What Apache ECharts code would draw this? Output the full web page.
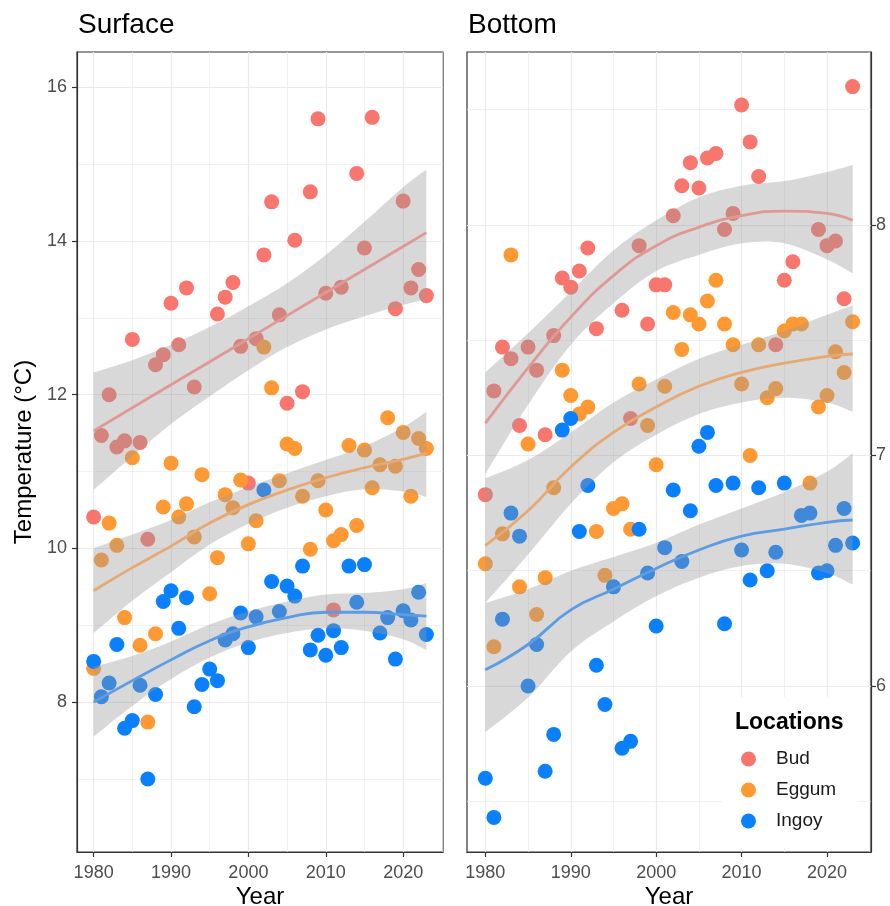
<!DOCTYPE html>
<html>
<head>
<meta charset="utf-8">
<title>Surface and bottom temperature</title>
<script src="https://cdn.jsdelivr.net/npm/echarts@6/dist/echarts.min.js"></script>
<style>
  html, body { margin: 0; padding: 0; background: #fff; }
  #chart { width: 890px; height: 906px; }
</style>
</head>
<body>
<div id="chart"></div>
<script>
// observations, one value per year (null = no point drawn)
const years = [1980, 1981, 1982, 1983, 1984, 1985, 1986, 1987, 1988, 1989,
  1990, 1991, 1992, 1993, 1994, 1995, 1996, 1997, 1998, 1999,
  2000, 2001, 2002, 2003, 2004, 2005, 2006, 2007, 2008, 2009,
  2010, 2011, 2012, 2013, 2014, 2015, 2016, 2017, 2018, 2019,
  2020, 2021, 2022, 2023]
const locations = ['Bud', 'Eggum', 'Ingoy']

const surfaceBud = [10.41, 11.47, 12.00, 11.32, 11.40, 12.72, 11.38, 10.12, 12.39, 12.52,
  13.19, 12.65, 13.39, 12.10, null, null, 13.05, 13.27, 13.46, 12.63,
  10.85, 12.73, 13.82, 14.51, 13.04, 11.89, 14.01, 12.04, 14.64, 15.59,
  13.32, 9.20, 13.40, null, 14.88, 13.91, 15.61, null, null, 13.12,
  14.52, 13.39, 13.63, 13.29]
const surfaceEggum = [8.44, 9.85, 10.33, 10.04, 9.10, 11.18, 8.74, 7.74, 8.89, 10.54,
  11.11, 10.41, 10.58, 10.15, 10.96, 9.41, 9.88, 10.70, 10.53, 10.89,
  10.06, 10.36, 12.62, 12.09, 10.88, 11.36, 11.30, 10.68, 9.99, 10.88,
  10.50, 10.10, 10.18, 11.34, 10.30, 11.28, 10.79, 11.09, 11.70, 11.07,
  11.51, 10.68, 11.43, 11.30]
const surfaceIngoy = [8.53, 8.07, 8.25, 8.75, 7.66, 7.76, 8.22, 7.00, 8.10, 9.31,
  9.45, 8.96, 9.36, 7.94, 8.23, 8.43, 8.28, 8.81, 8.89, 9.16,
  8.71, 9.11, 10.76, 9.57, 9.18, 9.51, 9.38, 9.77, 8.68, 8.87,
  8.61, 8.93, 8.71, 9.77, 9.30, 9.79, null, 8.90, 9.10, 8.56,
  9.19, 9.07, 9.43, 8.88]

const bottomBud = [6.83, 7.28, 7.47, 7.42, 7.13, 7.47, 7.37, 7.09, 7.52, 7.77,
  7.73, 7.80, 7.90, 7.55, null, null, 7.63, 7.16, 7.91, 7.57,
  7.74, 7.74, 8.04, 8.17, 8.27, 8.16, 8.29, 8.31, 7.98, 8.05,
  8.52, 8.36, 8.21, null, 7.48, 7.76, 7.84, null, null, 7.98,
  7.91, 7.93, 7.68, 8.60]
const bottomEggum = [6.53, 6.17, 6.66, 7.87, 6.43, 7.05, 6.31, 6.47, 6.86, 7.37,
  7.26, 7.18, 7.21, 6.67, 6.48, 6.77, 6.79, 6.68, 7.31, 7.13,
  6.96, 7.30, 7.62, 7.46, 7.61, 7.57, 7.67, 7.76, 7.57, 7.48,
  7.31, 7.00, 7.48, 7.25, 7.29, 7.54, 7.57, 7.57, 6.88, 7.21,
  7.26, 7.45, 7.36, 7.58]
const bottomIngoy = [5.60, 5.43, 6.29, 6.75, 6.65, 6.00, 6.18, 5.63, 5.79, 7.11,
  7.16, 6.67, 6.87, 6.09, 5.92, 6.43, 5.73, 5.76, 6.68, 6.49,
  6.26, 6.60, 6.85, 6.54, 6.76, 7.04, 7.10, 6.87, 6.27, 6.88,
  6.59, 6.46, 6.86, 6.50, 6.58, 6.88, null, 6.74, 6.75, 6.49,
  6.50, 6.61, 6.77, 6.62]

// smoothed fits and their confidence bands
const fitYears = [1980, 1985, 1990, 1995, 2000, 2005, 2010, 2015, 2020, 2023]

const surfaceBudFit = [11.53, 11.83, 12.13, 12.43, 12.73, 13.03, 13.33, 13.63, 13.93, 14.11]
const surfaceBudHi = [12.29, 12.45, 12.65, 12.88, 13.15, 13.45, 13.82, 14.25, 14.70, 14.93]
const surfaceBudLo = [10.76, 11.20, 11.62, 11.98, 12.32, 12.62, 12.85, 13.02, 13.17, 13.24]

const surfaceEggumFit = [9.45, 9.75, 10.03, 10.33, 10.57, 10.76, 10.92, 11.05, 11.16, 11.24]
const surfaceEggumHi = [10.00, 10.18, 10.37, 10.60, 10.80, 10.98, 11.15, 11.33, 11.58, 11.78]
const surfaceEggumLo = [8.90, 9.32, 9.69, 10.05, 10.32, 10.53, 10.68, 10.77, 10.74, 10.67]

const surfaceIngoyFit = [8.00, 8.28, 8.55, 8.80, 8.98, 9.10, 9.17, 9.17, 9.14, 9.12]
const surfaceIngoyHi = [8.46, 8.60, 8.79, 9.01, 9.18, 9.31, 9.40, 9.42, 9.47, 9.55]
const surfaceIngoyLo = [7.55, 7.95, 8.30, 8.58, 8.78, 8.90, 8.96, 8.93, 8.82, 8.68]

const bottomBudFit = [7.14, 7.38, 7.60, 7.78, 7.91, 7.99, 8.04, 8.06, 8.05, 8.02]
const bottomBudHi = [7.36, 7.53, 7.71, 7.89, 8.02, 8.12, 8.17, 8.19, 8.23, 8.26]
const bottomBudLo = [6.92, 7.22, 7.48, 7.66, 7.80, 7.87, 7.92, 7.92, 7.85, 7.79]

const bottomEggumFit = [6.61, 6.76, 6.95, 7.10, 7.21, 7.30, 7.36, 7.40, 7.43, 7.44]
const bottomEggumHi = [6.90, 6.98, 7.10, 7.23, 7.33, 7.42, 7.48, 7.54, 7.61, 7.65]
const bottomEggumLo = [6.36, 6.57, 6.79, 6.97, 7.09, 7.18, 7.23, 7.25, 7.23, 7.19]

const bottomIngoyFit = [6.07, 6.18, 6.33, 6.42, 6.51, 6.59, 6.65, 6.68, 6.71, 6.72]
const bottomIngoyHi = [6.36, 6.42, 6.50, 6.56, 6.62, 6.70, 6.77, 6.84, 6.93, 7.01]
const bottomIngoyLo = [5.80, 5.95, 6.15, 6.28, 6.39, 6.47, 6.52, 6.53, 6.49, 6.44]

// axis breaks
const xMajor = [1980, 1990, 2000, 2010, 2020]
const xMinor = [1985, 1995, 2005, 2015, 2025]
const surfaceMajor = [8, 10, 12, 14, 16]
const surfaceMinor = [7, 9, 11, 13, 15]
const bottomMajor = [6, 7, 8]
const bottomMinor = [5.5, 6.5, 7.5, 8.5]

const pointColors = { Bud: '#F8766D', Eggum: '#FF9933', Ingoy: '#0A80FF' }
const fitColors = { Bud: '#DF9994', Eggum: '#E6A971', Ingoy: '#5B9CE2' }
const FONT = '"Liberation Sans", Arial, sans-serif'

const panels = [
  {
    name: 'Surface', left: 77, width: 366, yMin: 6.05, yMax: 16.46,
    yMajor: surfaceMajor, yMinor: surfaceMinor, yPos: 'left', labelMargin: 10,
    points: { Bud: surfaceBud, Eggum: surfaceEggum, Ingoy: surfaceIngoy },
    fit: { Bud: surfaceBudFit, Eggum: surfaceEggumFit, Ingoy: surfaceIngoyFit },
    hi: { Bud: surfaceBudHi, Eggum: surfaceEggumHi, Ingoy: surfaceIngoyHi },
    lo: { Bud: surfaceBudLo, Eggum: surfaceEggumLo, Ingoy: surfaceIngoyLo }
  },
  {
    name: 'Bottom', left: 467, width: 404, yMin: 5.28, yMax: 8.75,
    yMajor: bottomMajor, yMinor: bottomMinor, yPos: 'right', labelMargin: 5,
    points: { Bud: bottomBud, Eggum: bottomEggum, Ingoy: bottomIngoy },
    fit: { Bud: bottomBudFit, Eggum: bottomEggumFit, Ingoy: bottomIngoyFit },
    hi: { Bud: bottomBudHi, Eggum: bottomEggumHi, Ingoy: bottomIngoyHi },
    lo: { Bud: bottomBudLo, Eggum: bottomEggumLo, Ingoy: bottomIngoyLo }
  }
]

const X_MIN = 1977.85
const X_MAX = 2025.15
const GRID_TOP = 52
const GRID_HEIGHT = 800

function pairs(xs, ys) {
  return xs.map((x, i) => [x, ys[i]]).filter(d => d[1] !== null)
}

// cubic segments through pixel points (Catmull-Rom style), appended after a move/line to pts[0]
function curveThrough(pts) {
  let d = ''
  for (let i = 0; i < pts.length - 1; i++) {
    const p0 = pts[i - 1] || pts[i]
    const p1 = pts[i]
    const p2 = pts[i + 1]
    const p3 = pts[i + 2] || pts[i + 1]
    const c1 = [p1[0] + (p2[0] - p0[0]) / 6, p1[1] + (p2[1] - p0[1]) / 6]
    const c2 = [p2[0] - (p3[0] - p1[0]) / 6, p2[1] - (p3[1] - p1[1]) / 6]
    d += ' C' + c1.join(' ') + ' ' + c2.join(' ') + ' ' + p2.join(' ')
  }
  return d
}

// one filled shape per band: upper edge left to right, lower edge back
function bandRenderer(hi, lo) {
  return function (params, api) {
    if (params.dataIndex !== 0) return null
    const upper = fitYears.map((x, i) => api.coord([x, hi[i]]))
    const lower = fitYears.map((x, i) => api.coord([x, lo[i]])).reverse()
    const d = 'M' + upper[0].join(' ') + curveThrough(upper) +
      ' L' + lower[0].join(' ') + curveThrough(lower) + ' Z'
    return {
      type: 'path',
      shape: { pathData: d },
      style: { fill: 'rgba(153,153,153,0.38)' },
      silent: true
    }
  }
}

const plainNumber = v => String(v)

const grids = []
const xAxes = []
const yAxes = []
const series = []
const graphics = []

panels.forEach((p, g) => {
  grids.push({
    left: p.left, top: GRID_TOP, width: p.width, height: GRID_HEIGHT,
    show: true, borderColor: '#333', borderWidth: 1.2, backgroundColor: '#fff'
  })

  // main axis carries ticks, labels and major grid, the second one only the minor grid
  xAxes.push({
    type: 'value', gridIndex: g, min: X_MIN, max: X_MAX,
    axisLine: { show: true, onZero: false, lineStyle: { color: '#333', width: 1.2 } },
    axisTick: { show: true, length: 5, customValues: xMajor, lineStyle: { color: '#333', width: 1.2 } },
    axisLabel: { customValues: xMajor, formatter: plainNumber, margin: 12, color: '#4d4d4d', fontSize: 18, fontFamily: FONT },
    splitLine: { show: true, lineStyle: { color: '#ebebeb', width: 1.2 } }
  })
  xAxes.push({
    type: 'value', gridIndex: g, min: X_MIN, max: X_MAX, position: 'bottom',
    axisLine: { show: false }, axisTick: { show: false, customValues: xMinor },
    axisLabel: { show: false },
    splitLine: { show: true, lineStyle: { color: '#ebebeb', width: 0.7 } }
  })
  yAxes.push({
    type: 'value', gridIndex: g, min: p.yMin, max: p.yMax, position: p.yPos,
    axisLine: { show: true, onZero: false, lineStyle: { color: '#333', width: 1.2 } },
    axisTick: { show: true, length: 5, customValues: p.yMajor, lineStyle: { color: '#333', width: 1.2 } },
    axisLabel: { customValues: p.yMajor, formatter: plainNumber, margin: p.labelMargin, color: '#4d4d4d', fontSize: 18, fontFamily: FONT },
    splitLine: { show: true, lineStyle: { color: '#ebebeb', width: 1.2 } }
  })
  yAxes.push({
    type: 'value', gridIndex: g, min: p.yMin, max: p.yMax, position: p.yPos,
    axisLine: { show: false }, axisTick: { show: false, customValues: p.yMinor },
    axisLabel: { show: false },
    splitLine: { show: true, lineStyle: { color: '#ebebeb', width: 0.7 } }
  })

  const xi = g * 2
  const yi = g * 2

  locations.forEach(loc => {
    series.push({
      name: loc, type: 'scatter', xAxisIndex: xi, yAxisIndex: yi, z: 2,
      symbolSize: 15, itemStyle: { color: pointColors[loc], opacity: 1 },
      data: pairs(years, p.points[loc])
    })
  })

  locations.forEach(loc => {
    series.push({
      name: loc + ' band', type: 'custom', xAxisIndex: xi, yAxisIndex: yi, z: 3,
      silent: true, clip: true,
      renderItem: bandRenderer(p.hi[loc], p.lo[loc]),
      data: fitYears.map((x, i) => [x, p.lo[loc][i], p.hi[loc][i]])
    })
  })

  locations.forEach(loc => {
    series.push({
      name: loc + ' fit', type: 'line', xAxisIndex: xi, yAxisIndex: yi, z: 4,
      smooth: true, symbol: 'none', silent: true,
      lineStyle: { color: fitColors[loc], width: 2.8 },
      data: pairs(fitYears, p.fit[loc])
    })
  })

  graphics.push({
    type: 'text', left: p.left + 1, top: 11, z: 100,
    style: { text: p.name, fontSize: 28, fontFamily: FONT, fill: '#000' }
  })
  graphics.push({
    type: 'text', x: p.left + p.width / 2, y: 897, z: 100,
    style: { text: 'Year', fontSize: 24, fontFamily: FONT, fill: '#000', align: 'center', verticalAlign: 'middle' }
  })
})

graphics.push({
  type: 'text', x: 24, y: 452, rotation: Math.PI / 2, z: 100,
  style: { text: 'Temperature (°C)', fontSize: 24, fontFamily: FONT, fill: '#000', align: 'center', verticalAlign: 'middle' }
})
graphics.push({
  type: 'text', x: 735, y: 723, z: 100,
  style: { text: 'Locations', fontSize: 23, fontWeight: 'bold', fontFamily: FONT, fill: '#000', verticalAlign: 'middle' }
})

const chart = echarts.init(document.getElementById('chart'))
chart.setOption({
  backgroundColor: '#fff',
  animation: false,
  grid: grids,
  xAxis: xAxes,
  yAxis: yAxes,
  legend: {
    data: locations, orient: 'vertical', left: 722, top: 697,
    icon: 'circle', itemWidth: 15, itemHeight: 15, itemGap: 11,
    padding: [52, 21, 17, 19], backgroundColor: '#fff',
    textStyle: { fontSize: 19, color: '#1a1a1a', fontFamily: FONT, lineHeight: 20, padding: [0, 0, 0, 15] }
  },
  graphic: graphics,
  series: series
})
</script>
</body>
</html>
